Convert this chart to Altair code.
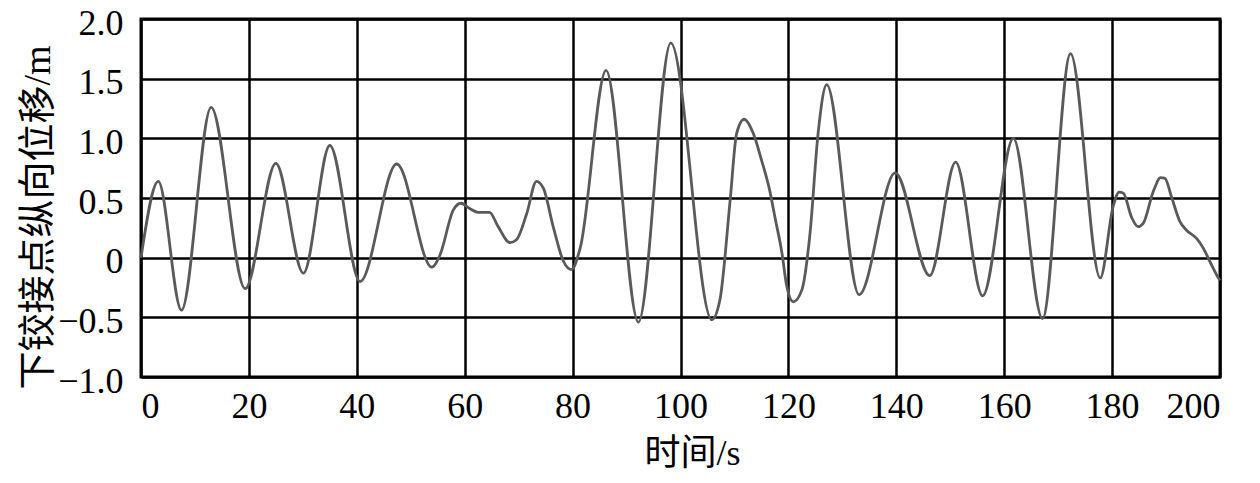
import altair as alt
import pandas as pd

# time (s)
t = [0.0, 3.2, 7.5, 13.0, 19.3, 25.0, 30.1, 35.0, 40.6, 47.4, 53.9,
     55.4, 57.9, 59.3, 61.0, 62.5, 64.6, 66.2, 68.4, 69.6, 71.5, 73.3, 74.6,
     76.4, 78.3, 79.8, 81.4, 86.2, 92.2, 98.2, 105.8, 107.3, 109.2, 110.4,
     111.8, 113.5, 115.0, 116.5, 117.5, 118.8, 119.7, 120.9, 122.5, 124.0,
     125.5, 127.1, 133.1, 139.8, 146.2, 151.0, 156.0, 161.7, 167.1, 172.3,
     177.8, 180.2, 181.3, 182.1, 183.6, 184.8, 185.8, 187.6, 189.0, 189.8,
     191.0, 192.6, 193.8, 195.7, 196.9, 198.1, 199.7, 200.0]
# displacement (m)
v = [0.00, 0.64, -0.44, 1.26, -0.26, 0.79, -0.13, 0.94, -0.20, 0.785, -0.08,
     0.02, 0.40, 0.456, 0.41, 0.38, 0.38, 0.26, 0.126, 0.15, 0.37, 0.64, 0.58,
     0.26, -0.03, -0.10, 0.08, 1.57, -0.54, 1.80, -0.52, -0.355, 0.48, 1.04,
     1.16, 1.04, 0.82, 0.57, 0.34, 0.04, -0.24, -0.37, -0.27, 0.20,
     1.04, 1.45, -0.31, 0.71, -0.15, 0.80, -0.32, 1.00, -0.51, 1.71,
     -0.17, 0.43, 0.55, 0.54, 0.34, 0.26, 0.29, 0.55, 0.67, 0.665,
     0.51, 0.30, 0.23, 0.16, 0.08, -0.03, -0.17, -0.19]

x_ticks = [0, 20, 40, 60, 80, 100, 120, 140, 160, 180, 200]
y_ticks = [-1.0, -0.5, 0.0, 0.5, 1.0, 1.5, 2.0]

df = pd.DataFrame({"t": t, "v": v})

label_font = "'Liberation Serif', 'Times New Roman', serif"
title_font = "'Liberation Serif', 'Noto Sans CJK SC', serif"

chart = alt.Chart(df).mark_line(
    color="#5a5a5a", strokeWidth=2.8, interpolate="monotone"
).encode(
    x=alt.X("t:Q", scale=alt.Scale(domain=[0, 200], nice=False, zero=False),
            axis=alt.Axis(values=x_ticks, title="时间/s", format="d",
                          labelFont=label_font, labelFontSize=36,
                          titleFont=title_font, titleFontSize=36,
                          titleX=551, titleY=76, titleAlign="center",
                          titleBaseline="middle", labelPadding=12)),
    y=alt.Y("v:Q", scale=alt.Scale(domain=[-1.0, 2.0], nice=False, zero=False),
            axis=alt.Axis(values=y_ticks, title="下铰接点纵向位移/m",
                          labelExpr="datum.value == 0 ? '0' : format(datum.value, '.1f')",
                          labelFont=label_font, labelFontSize=36,
                          titleFont=title_font, titleFontSize=38,
                          titleX=-103, titleY=198, titleAngle=-90,
                          titleAlign="center", titleBaseline="middle",
                          labelPadding=18, labelOffset=4)),
).properties(
    width=1079, height=358,
    autosize=alt.AutoSizeParams(type="none"),
    padding={"left": 133, "top": 11, "right": 25, "bottom": 96},
    background="white",
).configure_axis(
    grid=True, gridColor="black", gridWidth=2.5, gridOpacity=1,
    domain=False, ticks=False,
    labelColor="black", titleColor="black", titleFontWeight="normal",
).configure_view(
    stroke="black", strokeWidth=3
)

chart.save("out.html", embed_options={"renderer": "svg", "actions": False})
